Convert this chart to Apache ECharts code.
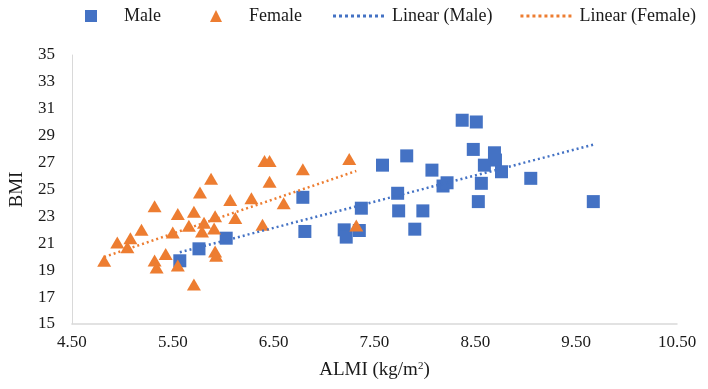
<!DOCTYPE html>
<html>
<head>
<meta charset="utf-8">
<script src="https://cdn.jsdelivr.net/npm/echarts@6/dist/echarts.min.js"></script>
<style>
  html, body { margin: 0; padding: 0; background: #fff; }
  #chart { width: 708px; height: 389px; }
</style>
</head>
<body>
<div id="chart"></div>
<script>
// ALMI (kg/m2) vs BMI
var maleData = [
  [5.57, 19.70], [5.76, 20.59], [6.03, 21.38], [6.79, 24.42], [6.81, 21.88],
  [7.20, 22.00], [7.22, 21.46], [7.35, 21.95], [7.37, 23.61], [7.58, 26.81],
  [7.73, 24.72], [7.74, 23.41], [7.82, 27.50], [7.90, 22.05], [7.98, 23.41],
  [8.07, 26.44], [8.18, 25.26], [8.22, 25.50], [8.37, 30.15], [8.51, 30.02],
  [8.48, 27.98], [8.53, 24.10], [8.56, 25.46], [8.59, 26.81], [8.69, 27.73],
  [8.70, 27.19], [8.76, 26.32], [9.05, 25.83], [9.67, 24.10]
]
var femaleData = [
  [4.82, 19.70], [4.95, 21.06], [5.05, 20.70], [5.08, 21.38], [5.19, 22.00],
  [5.32, 23.75], [5.32, 19.72], [5.34, 19.20], [5.43, 20.21], [5.50, 21.80],
  [5.55, 23.18], [5.55, 19.35], [5.66, 22.30], [5.71, 23.34], [5.71, 17.93],
  [5.77, 24.78], [5.81, 22.52], [5.79, 21.88], [5.92, 23.02], [5.91, 22.10],
  [5.88, 25.80], [5.92, 20.39], [5.93, 20.07], [6.07, 24.22], [6.12, 22.88],
  [6.28, 24.35], [6.39, 22.37], [6.41, 27.11], [6.46, 27.11], [6.46, 25.58],
  [6.60, 23.98], [6.79, 26.50], [7.25, 27.26], [7.32, 22.32]
]
var xTicks = [4.5, 5.5, 6.5, 7.5, 8.5, 9.5, 10.5]
var yTicks = [15, 17, 19, 21, 23, 25, 27, 29, 31, 33, 35]

// least squares trendline, drawn from min x to max x like Excel does
function trend(points) {
  var n = points.length, sx = 0, sy = 0, sxx = 0, sxy = 0
  var lo = Infinity, hi = -Infinity
  points.forEach(function (p) {
    sx += p[0]; sy += p[1]; sxx += p[0] * p[0]; sxy += p[0] * p[1]
    lo = Math.min(lo, p[0]); hi = Math.max(hi, p[0])
  })
  var b = (n * sxy - sx * sy) / (n * sxx - sx * sx)
  var a = (sy - b * sx) / n
  return [[lo, a + b * lo], [hi, a + b * hi]]
}

// dotted legend icon (row of small squares)
var dots = 'path://'
for (var i = 0; i < 9; i++) dots += 'M' + (i * 6) + ',0h3v3h-3z'

var font = 'Liberation Serif'
var blue = '#4472C4'
var orange = '#ED7D31'
var ink = '#1a1a1a'

var chart = echarts.init(document.getElementById('chart'))
var option = {
  animation: false,
  textStyle: { fontFamily: font },
  grid: { left: 65, right: 31, top: 55, bottom: 65 },
  legend: [
    {
      left: 80, top: 2,
      itemWidth: 12, itemHeight: 12, itemGap: 49,
      textStyle: { fontFamily: font, fontSize: 18, color: ink, padding: [0, 0, 0, 22] },
      data: [{ name: 'Male', icon: 'rect' }, { name: 'Female', icon: 'triangle' }]
    },
    {
      left: 328, top: 2,
      itemWidth: 51, itemHeight: 3, itemGap: 28,
      textStyle: { fontFamily: font, fontSize: 18, color: ink, padding: [0, 0, 0, 3] },
      data: [{ name: 'Linear (Male)', icon: dots }, { name: 'Linear (Female)', icon: dots }]
    }
  ],
  xAxis: {
    type: 'value',
    min: xTicks[0], max: xTicks[xTicks.length - 1], interval: 1,
    name: 'ALMI (kg/m{sup|2})',
    nameLocation: 'middle', nameGap: 37,
    nameTextStyle: {
      fontFamily: font, fontSize: 19, color: ink,
      rich: { sup: { fontFamily: font, fontSize: 11, verticalAlign: 'top', padding: [0, 0, 8, 0], color: ink } }
    },
    axisLine: { show: true, lineStyle: { color: '#d9d9d9', width: 1.5 } },
    axisTick: { show: false },
    splitLine: { show: false },
    axisLabel: {
      fontFamily: font, fontSize: 17, color: ink, margin: 10,
      formatter: function (v) { return v.toFixed(2) }
    }
  },
  yAxis: {
    type: 'value',
    min: yTicks[0], max: yTicks[yTicks.length - 1], interval: 2,
    name: 'BMI',
    nameLocation: 'middle', nameGap: 42,
    nameTextStyle: { fontFamily: font, fontSize: 19, color: ink },
    axisLine: { show: true, lineStyle: { color: '#d9d9d9', width: 1 } },
    axisTick: { show: false },
    splitLine: { show: false },
    axisLabel: { fontFamily: font, fontSize: 17, color: ink, margin: 17 }
  },
  series: [
    {
      name: 'Male', type: 'scatter', symbol: 'rect', symbolSize: 13,
      itemStyle: { color: blue, opacity: 1 },
      data: maleData
    },
    {
      name: 'Female', type: 'scatter', symbol: 'triangle', symbolSize: [14, 12],
      itemStyle: { color: orange, opacity: 1 },
      data: femaleData
    },
    {
      name: 'Linear (Male)', type: 'line', symbol: 'none', z: 5,
      lineStyle: { color: blue, width: 2.5, type: [2, 3] },
      itemStyle: { color: blue },
      data: trend(maleData)
    },
    {
      name: 'Linear (Female)', type: 'line', symbol: 'none', z: 5,
      lineStyle: { color: orange, width: 2.5, type: [2, 3] },
      itemStyle: { color: orange },
      data: trend(femaleData)
    }
  ]
}
chart.setOption(option)
</script>
</body>
</html>
